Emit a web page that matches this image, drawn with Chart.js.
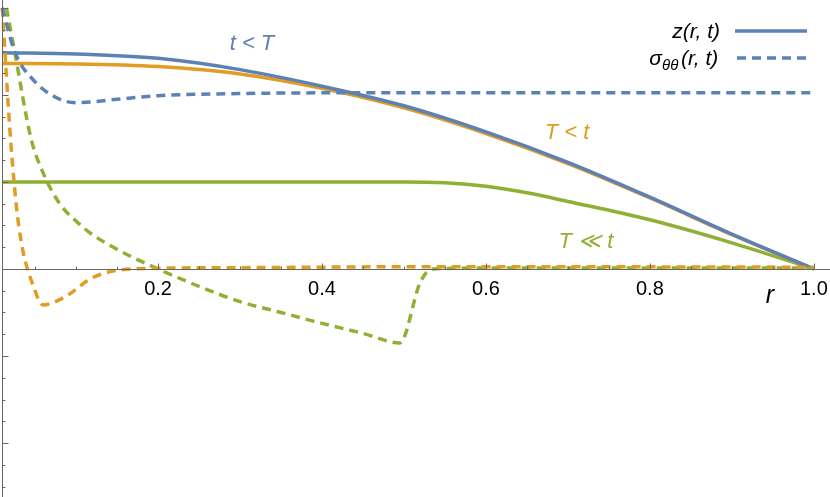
<!DOCTYPE html>
<html><head><script src="https://cdn.jsdelivr.net/npm/chart.js@4"></script>
<style>body{margin:0;background:#fff}#w{width:830px;height:497px}</style></head>
<body><div id="w"><canvas id="c"></canvas></div>
<script>
const rS=[0.01,0.1,0.2,0.3,0.4,0.5,0.6,0.7,0.8,0.9,1.0];
const zBlue=[0.497,0.494,0.484,0.458,0.42,0.375,0.315,0.245,0.165,0.08,0];
const zOrange=[0.472,0.471,0.465,0.448,0.415,0.37,0.311,0.242,0.163,0.079,0];
const rG=[0.01,0.1,0.2,0.3,0.4,0.5,0.55,0.6,0.65,0.7,0.8,0.9,1.0];
const zGreen=[0.2,0.2,0.2,0.2,0.2,0.2,0.198,0.19,0.175,0.155,0.113,0.06,0];
const rSB=[0.01,0.025,0.05,0.08,0.1,0.15,0.2,0.3,0.5,1.0];
const sBlue=[0.6,0.5,0.43,0.39,0.382,0.39,0.398,0.403,0.405,0.405];
const rSO=[0.01,0.02,0.03,0.05,0.06,0.075,0.09,0.12,0.17,0.3,0.5,0.7,1.0];
const sOrange=[0.6,0.3,0.1,-0.05,-0.083,-0.075,-0.06,-0.02,0,0.003,0.005,0.005,0.004];
const rSG=[0.015,0.025,0.045,0.06,0.08,0.1,0.117,0.15,0.2,0.25,0.3,0.35,0.4,0.45,0.495,0.52,0.535,0.6,0.8,1.0];
const sGreen=[0.6,0.5,0.3,0.22,0.15,0.11,0.083,0.045,0,-0.04,-0.075,-0.1,-0.125,-0.148,-0.17,-0.03,0,0.002,0.002,0.002];
const xTicks=[0.2,0.4,0.6,0.8,1.0];
const yTicks=[-0.4,-0.2,0.2,0.4,0.6];
const B='#5E81B5',O='#E19C24',G='#8FB032';
const pts=(x,y)=>x.map((v,i)=>({x:v,y:y[i]}));
const ds=(x,y,c,d)=>({data:pts(x,y),borderColor:c,borderWidth:3.5,pointRadius:0,borderDash:d?[9,6]:[],cubicInterpolationMode:'monotone'});
const axes={id:'ax',afterDraw(ch){
 const c=ch.ctx,x=ch.scales.x,y=ch.scales.y,x0=Math.round(x.getPixelForValue(0.01))+0.5,y0=Math.round(y.getPixelForValue(0))+0.5;
 c.save();c.strokeStyle='#666';c.lineWidth=1;c.beginPath();
 c.moveTo(x0,0);c.lineTo(x0,497);c.moveTo(x0,y0);c.lineTo(830,y0);
 for(let v=-0.5;v<=0.61;v+=0.05){const p=Math.round(y.getPixelForValue(v))+0.5;const maj=Math.abs(v*5-Math.round(v*5))<1e-6;c.moveTo(x0,p);c.lineTo(x0+(maj?6:3),p);}
 for(let v=0.05;v<=1.01;v+=0.05){const p=Math.round(x.getPixelForValue(v))+0.5;const maj=Math.abs(v*5-Math.round(v*5))<1e-6;c.moveTo(p,y0);c.lineTo(p,y0-(maj?6:3));}
 c.stroke();
 c.fillStyle='#000';c.font='20px "Liberation Sans"';c.textAlign='center';c.textBaseline='top';
 xTicks.forEach(v=>c.fillText(v.toFixed(1),x.getPixelForValue(v),y0+10));
 c.textAlign='right';c.textBaseline='middle';
 yTicks.forEach(v=>c.fillText(v.toFixed(1).replace('-','−'),x0-8,y.getPixelForValue(v)));
 c.font='italic 25px "Liberation Sans"';c.textAlign='center';c.fillText('r',770,296);
 c.font='italic 22px "Liberation Sans"';
 c.fillStyle=B;c.fillText('t < T',252,44);
 c.fillStyle=O;c.fillText('T < t',567,133);
 c.fillStyle=G;c.fillText('T ≪ t',586,242);
 c.fillStyle='#000';c.textAlign='right';c.font='italic 21px "Liberation Sans"';
 c.fillText('z(r, t)',720,32);
 c.fillText('σ',662,59);c.font='italic 15px "Liberation Sans"';c.textAlign='left';c.fillText('θθ',662,66);
 c.font='italic 21px "Liberation Sans"';c.fillText('(r, t)',681,59);
 c.strokeStyle=B;c.lineWidth=3.5;c.beginPath();c.moveTo(735,31);c.lineTo(807,31);c.stroke();
 c.setLineDash([9,6]);c.beginPath();c.moveTo(737,58);c.lineTo(807,58);c.stroke();
 c.restore();}};
new Chart(document.getElementById('c'),{type:'line',
 data:{datasets:[ds(rSB,sBlue,B,1),ds(rSO,sOrange,O,1),ds(rSG,sGreen,G,1),ds(rS,zBlue,B),ds(rS,zOrange,O),ds(rG,zGreen,G)]},
 options:{responsive:true,maintainAspectRatio:false,animation:false,layout:{padding:0},
  plugins:{legend:{display:false},tooltip:{enabled:false}},
  scales:{x:{type:'linear',min:0.0072,max:1.0197,display:false},y:{min:-0.524,max:0.618,display:false}}},
 plugins:[axes]});
</script></body></html>
